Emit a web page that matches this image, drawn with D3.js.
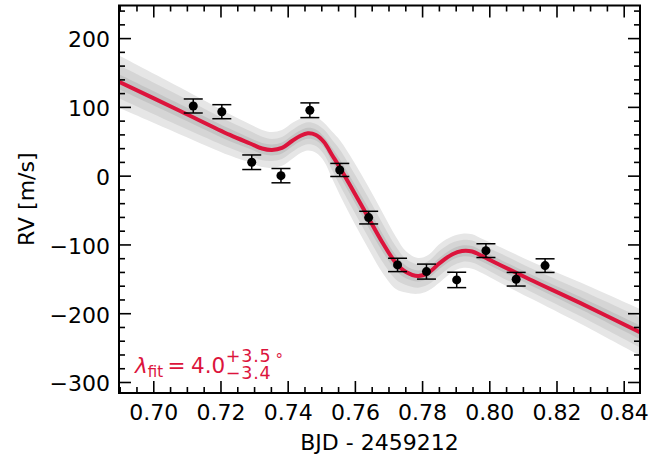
<!DOCTYPE html>
<html>
<head>
    <title>RV Rossiter-McLaughlin fit</title>
    <script src="https://cdnjs.cloudflare.com/ajax/libs/d3/7.8.5/d3.min.js"></script>
    <style>
        body { margin: 0; background: #fff; }
        svg text { font-family: "DejaVu Sans", sans-serif; }
        .tick line { stroke: #000; stroke-width: 1.6px; }
        .domain { display: none; }
    </style>
</head>
<body>
    <div id="chart"></div>
    <script>
// observed radial velocities
const rvTime = [0.7119, 0.7204, 0.7293, 0.7380, 0.7466, 0.7555, 0.7641, 0.7727, 0.7813, 0.7903, 0.7990, 0.8080, 0.8166];
const rvValue = [101.3, 93.0, 19.5, 0.0, 95.1, 8.3, -61.0, -129.8, -139.5, -151.6, -109.0, -150.6, -130.8];
const rvError = [10.2, 10.2, 10.6, 10.4, 10.7, 9.5, 9.2, 9.7, 10.9, 11.2, 10.0, 9.9, 9.9];

// best-fit model curve
const modelTime = [0.6898, 0.7080, 0.7228, 0.7288, 0.7324, 0.7353, 0.7383, 0.7413, 0.7437, 0.7460, 0.7484, 0.7508, 0.7532, 0.7556, 0.7597,
    0.7639, 0.7681, 0.7722, 0.7752, 0.7788, 0.7818, 0.7853, 0.7889, 0.7919, 0.7949, 0.7978, 0.8032, 0.8121, 0.8270, 0.8452];
const modelValue = [136.6, 94.0, 59.2, 46.8, 39.5, 37.4, 40.3, 50.4, 57.7, 61.6, 59.2, 49.0, 30.1, 11.2, -23.7,
    -60.0, -96.4, -126.9, -140.0, -145.8, -141.4, -126.9, -114.5, -109.4, -110.2, -116.7, -129.8, -150.9, -185.0, -228.6];

// half widths of the posterior draws (outer, middle, inner)
const bandOuter = [38, 34, 30, 28, 27, 26, 26, 26, 25, 25, 26, 28, 34, 40, 44, 45, 44, 38, 30, 26, 26, 28, 26, 25, 25, 25, 26, 27, 30, 34];
const bandMiddle = [24, 22, 19, 18, 17, 16, 16, 16, 16, 16, 16, 18, 22, 26, 28, 29, 28, 24, 19, 17, 17, 18, 17, 16, 16, 16, 17, 17, 19, 22];
const bandInner = [11, 10, 9, 8, 8, 8, 8, 8, 8, 8, 8, 8, 10, 12, 13, 14, 13, 11, 9, 8, 8, 8, 8, 8, 8, 8, 8, 8, 9, 10];

const xMajor = [0.70, 0.72, 0.74, 0.76, 0.78, 0.80, 0.82, 0.84];
const xMinor = [0.690, 0.695, 0.705, 0.710, 0.715, 0.725, 0.730, 0.735, 0.745, 0.750, 0.755, 0.765, 0.770, 0.775,
    0.785, 0.790, 0.795, 0.805, 0.810, 0.815, 0.825, 0.830, 0.835];
const yMajor = [-300, -200, -100, 0, 100, 200];
const yMinor = [-280, -260, -240, -220, -180, -160, -140, -120, -80, -60, -40, -20, 20, 40, 60, 80, 120, 140, 160, 180, 220, 240];

    const W = 665, H = 457;
    const margin = { left: 119, right: 25, top: 5.5, bottom: 64 };
    const innerW = W - margin.left - margin.right;
    const innerH = H - margin.top - margin.bottom;
    const red = '#DC143C';

    const svg = d3.select('#chart').append('svg')
        .attr('width', W)
        .attr('height', H);

    const g = svg.append('g')
        .attr('transform', `translate(${margin.left},${margin.top})`);

    const x = d3.scaleLinear().domain([0.6898, 0.84485]).range([0, innerW]);
    const y = d3.scaleLinear().domain([-316, 247.4]).range([innerH, 0]);

    g.append('clipPath').attr('id', 'clip')
        .append('rect').attr('width', innerW).attr('height', innerH);

    const plot = g.append('g').attr('clip-path', 'url(#clip)');
    const idx = d3.range(modelTime.length);

    // uncertainty bands
    [[bandOuter, '#e6e6e6'], [bandMiddle, '#d5d5d5'], [bandInner, '#c4c4c4']].forEach(([band, col]) => {
        plot.append('path')
            .datum(idx)
            .attr('fill', col)
            .attr('d', d3.area()
                .curve(d3.curveCatmullRom)
                .x(i => x(modelTime[i]))
                .y0(i => y(modelValue[i] - band[i]))
                .y1(i => y(modelValue[i] + band[i])));
    });

    // model line
    plot.append('path')
        .datum(idx)
        .attr('fill', 'none')
        .attr('stroke', red)
        .attr('stroke-width', 4)
        .attr('d', d3.line()
            .curve(d3.curveCatmullRom)
            .x(i => x(modelTime[i]))
            .y(i => y(modelValue[i])));

    // data with error bars
    const pts = g.append('g').selectAll('g')
        .data(d3.range(rvTime.length))
        .join('g');
    pts.append('line')
        .attr('x1', i => x(rvTime[i])).attr('x2', i => x(rvTime[i]))
        .attr('y1', i => y(rvValue[i] - rvError[i])).attr('y2', i => y(rvValue[i] + rvError[i]))
        .attr('stroke', '#000').attr('stroke-width', 1.5);
    [-1, 1].forEach(s => {
        pts.append('line')
            .attr('x1', i => x(rvTime[i]) - 9.5).attr('x2', i => x(rvTime[i]) + 9.5)
            .attr('y1', i => y(rvValue[i] + s * rvError[i])).attr('y2', i => y(rvValue[i] + s * rvError[i]))
            .attr('stroke', '#000').attr('stroke-width', 1.5);
    });
    pts.append('circle')
        .attr('cx', i => x(rvTime[i]))
        .attr('cy', i => y(rvValue[i]))
        .attr('r', 4.5)
        .attr('fill', '#000');

    // axes, ticks pointing inwards on all four sides
    const fmtY = d => d < 0 ? '\u2212' + Math.abs(d) : String(d);
    const addAxis = (axis, tr, vals, size, labels, fmt, pad) => {
        const a = g.append('g').attr('transform', tr)
            .call(axis.tickValues(vals).tickSizeInner(-size).tickSizeOuter(0).tickPadding(pad)
                .tickFormat(labels ? fmt : ''));
        a.selectAll('text').style('font-size', '22px').attr('fill', '#000');
        return a;
    };
    addAxis(d3.axisBottom(x), `translate(0,${innerH})`, xMajor, 12, true, d3.format('.2f'), 11);
    addAxis(d3.axisBottom(x), `translate(0,${innerH})`, xMinor, 6, false);
    addAxis(d3.axisTop(x), 'translate(0,0)', xMajor, 12, false);
    addAxis(d3.axisTop(x), 'translate(0,0)', xMinor, 6, false);
    const ly = addAxis(d3.axisLeft(y), 'translate(0,0)', yMajor, 12, true, fmtY, 9);
    ly.selectAll('text').attr('dy', '0.4em');
    addAxis(d3.axisLeft(y), 'translate(0,0)', yMinor, 6, false);
    addAxis(d3.axisRight(y), `translate(${innerW},0)`, yMajor, 12, false);
    addAxis(d3.axisRight(y), `translate(${innerW},0)`, yMinor, 6, false);

    g.append('rect')
        .attr('width', innerW).attr('height', innerH)
        .attr('fill', 'none').attr('stroke', '#000').attr('stroke-width', 2);

    // axis labels
    svg.append('text')
        .attr('x', margin.left + innerW / 2).attr('y', 450)
        .attr('text-anchor', 'middle').style('font-size', '22px')
        .text('BJD - 2459212');
    svg.append('text')
        .attr('transform', `translate(34,${margin.top + innerH / 2}) rotate(-90)`)
        .attr('text-anchor', 'middle').style('font-size', '22px')
        .text('RV [m/s]');

    // lambda annotation
    const ann = svg.append('g').attr('fill', red);
    let cx = 135;
    const base = 372.5;
    const put = (txt, size, dyb, italic, ls) => {
        const t = ann.append('text').attr('x', cx).attr('y', base + dyb)
            .style('font-size', size + 'px').style('font-style', italic ? 'italic' : 'normal')
            .style('letter-spacing', (ls || 0) + 'px').text(txt);
        return t.node().getComputedTextLength();
    };
    cx += put('\u03bb', 21.5, 0, true);
    cx += put('fit', 15, 4, false) + 4.5;
    cx += put('=', 21.5, 0, false) + 5.5;
    cx += put('4.0', 21.5, 0, false) + 0.5;
    const wSup = put('+3.5', 17.5, -10.5, false, 0.8);
    put('\u22123.4', 17.5, 6.5, false, 0.8);
    cx += wSup + 4;
    put('\u00b0', 15, -8, false);
    </script>
</body>
</html>
